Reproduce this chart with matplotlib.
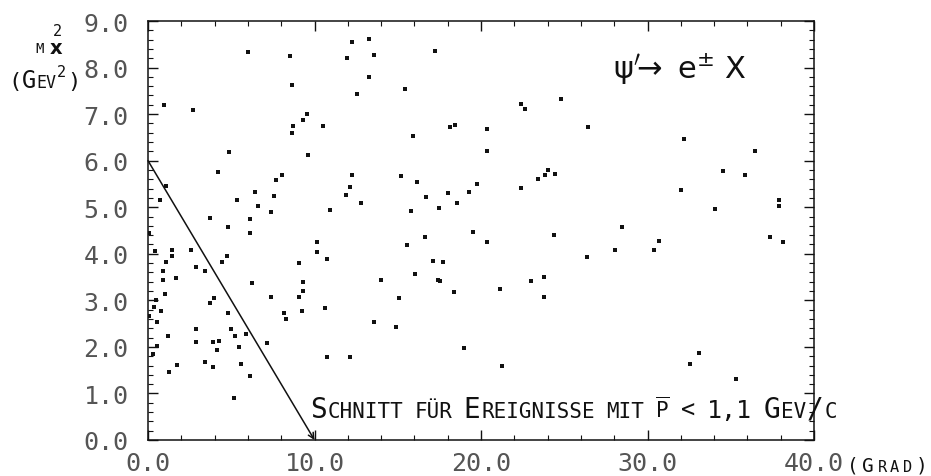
import matplotlib
matplotlib.use("Agg")
import matplotlib.pyplot as plt
from matplotlib.transforms import IdentityTransform
from matplotlib.ticker import MultipleLocator, FormatStrFormatter

# Streuwinkel (Grad) und fehlende Masse M_x^2 (GeV^2)
theta = [
    6.0, 8.53, 8.65, 0.96, 2.7, 8.7, 8.65, 9.3, 9.55, 9.6, 4.86, 4.2, 1.08, 0.72,
    3.72, 5.35, 6.43, 6.6, 7.7, 8.05, 7.57, 7.39, 6.13, 4.8, 6.1, 0.06,
    0.42, 1.08, 1.44, 1.44, 0.9, 1.68, 0.9, 1.02, 2.58, 2.88, 3.42, 4.44, 4.74,
    6.25, 3.96, 3.72, 0.48, 0.36, 0.78, 0.06, 0.54, 4.8, 5.0, 5.2, 5.9, 2.88,
    1.2, 2.88, 3.9, 4.26, 4.14, 5.47, 0.54, 0.3, 1.74, 1.26, 3.42, 3.9, 5.59,
    6.13, 5.16, 7.15, 7.39, 8.17, 8.29, 9.07, 9.25, 9.07, 9.3, 9.3, 10.15, 10.15,
    12.25, 13.27, 11.95, 13.57, 17.24, 13.27, 15.44, 12.55, 10.5, 15.9, 18.14,
    18.44, 20.36, 20.36, 22.4, 22.64, 24.8, 26.43, 12.25, 12.13, 11.9, 10.93,
    12.8, 15.2, 16.16, 15.8, 16.7, 17.48, 18.02, 18.56, 19.28, 19.76, 22.4,
    23.42, 23.84, 24.02, 24.44, 16.64, 19.52, 24.38,
    10.75, 10.63, 15.56, 20.36, 26.37, 28.05, 17.12, 17.72, 13.99, 16.04, 17.42,
    17.54, 18.38, 15.08, 21.14, 23.0, 23.78, 23.78, 13.57, 14.9, 18.98, 10.75,
    12.13, 21.26,
    32.2, 36.46, 34.53, 35.86, 32.0, 37.9, 37.9, 34.05, 28.47, 37.36,
    30.4, 30.7, 38.14, 32.55, 33.1, 35.3,
]
mx2 = [
    8.33, 8.25, 7.62, 7.2, 7.09, 6.75, 6.6, 6.88, 7.0, 6.12, 6.19, 5.75, 5.46, 5.15,
    4.77, 5.15, 5.32, 5.02, 5.58, 5.69, 5.24, 4.9, 4.75, 4.57, 4.44, 4.44,
    4.06, 3.82, 4.08, 3.95, 3.63, 3.48, 3.44, 3.14, 4.08, 3.72, 3.63, 3.82, 3.95,
    3.37, 3.05, 2.94, 3.0, 2.86, 2.77, 2.66, 2.53, 2.73, 2.38, 2.23, 2.28, 2.38,
    2.23, 2.1, 2.1, 2.13, 1.93, 2.0, 2.02, 1.85, 1.61, 1.46, 1.67, 1.57, 1.63,
    1.37, 0.9, 2.08, 3.07, 2.73, 2.6, 3.07, 2.77, 3.8, 3.39, 3.2, 4.25, 4.04,
    8.55, 8.61, 8.2, 8.27, 8.36, 7.8, 7.54, 7.43, 6.75, 6.53, 6.72,
    6.77, 6.68, 6.2, 7.22, 7.11, 7.32, 6.72, 5.69, 5.43, 5.27, 4.94,
    5.09, 5.67, 5.54, 4.92, 5.22, 4.98, 5.3, 5.09, 5.33, 5.5, 5.41,
    5.6, 5.69, 5.8, 5.71, 4.36, 4.47, 4.4,
    3.89, 2.83, 4.19, 4.25, 3.93, 4.08, 3.84, 3.82, 3.44, 3.57, 3.44,
    3.41, 3.18, 3.05, 3.24, 3.41, 3.5, 3.07, 2.53, 2.43, 1.98, 1.78,
    1.78, 1.59,
    6.46, 6.2, 5.77, 5.69, 5.37, 5.15, 5.02, 4.96, 4.57, 4.36,
    4.08, 4.27, 4.25, 1.63, 1.87, 1.31,
]

# Schnittlinie
cut_x = [0.0, 10.0]
cut_y = [6.0, 0.0]

W, H = 931, 477
ink = "#111111"
mono = "DejaVu Sans Mono"

fig = plt.figure(figsize=(W / 100, H / 100), dpi=100)
ax = fig.add_axes([148 / W, (H - 441) / H, (814 - 148) / W, (441 - 22) / H])

ax.scatter(theta, mx2, marker="s", s=6, color=ink, linewidths=0, zorder=3)
ax.annotate("", xy=(cut_x[1], cut_y[1]), xytext=(cut_x[0], cut_y[0]),
            arrowprops=dict(arrowstyle="->", color=ink, lw=1.1,
                            shrinkA=0, shrinkB=0, mutation_scale=10))

ax.set_xlim(0, 40)
ax.set_ylim(0, 9)
ax.xaxis.set_major_locator(MultipleLocator(10))
ax.xaxis.set_minor_locator(MultipleLocator(2))
ax.yaxis.set_major_locator(MultipleLocator(1))
ax.yaxis.set_minor_locator(MultipleLocator(0.2))
ax.xaxis.set_major_formatter(FormatStrFormatter("%.1f"))
ax.yaxis.set_major_formatter(FormatStrFormatter("%.1f"))
ax.tick_params(which="both", direction="in", top=True, right=True, color=ink,
               labelsize=18, labelcolor="#555555", labelfontfamily=mono)
ax.tick_params(which="major", length=7, width=1)
ax.tick_params(which="minor", length=3.5, width=0.8)
ax.tick_params(axis="x", pad=8)
ax.tick_params(axis="y", pad=14)
for sp in ax.spines.values():
    sp.set_linewidth(1.1)
    sp.set_color(ink)


def put(x, y_img, pieces, family=mono, space=12, track=1.5):
    # Kapitaelchen: Textstuecke nacheinander setzen (Pixelkoordinaten)
    r = fig.canvas.get_renderer()
    for s, size, dy in pieces:
        if s == " ":
            x += space
            continue
        t = fig.text(x, H - y_img + dy, s, transform=IdentityTransform(),
                     fontsize=size, family=family, color=ink,
                     ha="left", va="baseline")
        x = t.get_window_extent(renderer=r).x1 + track
    return x


B, S = 20, 15
put(310, 418, [("S", B, 0), ("CHNITT", S, 0), (" ", 0, 0), ("FÜR", S, 0),
               (" ", 0, 0), ("E", B, 0), ("REIGNISSE", S, 0), (" ", 0, 0),
               ("MIT", S, 0), (" ", 0, 0), (r"$\overline{\mathtt{P}}$", S, 0),
               (" ", 0, 0), ("<", 17, 0), (" ", 0, 0), ("1,1", 18, 0),
               (" ", 0, 0), ("G", B, 0), ("EV", S, 0), ("/", B, 0), ("C", S, 0)],
    space=10.5, track=0.8)

# Achsenbeschriftungen
put(847, 472, [("(", 14, 0), ("G", 14, 0), ("R", 11, 0), ("A", 11, 0),
               ("D", 11, 0), (")", 14, 0)], track=3.5)
put(8, 88, [("(", 16, 0), ("G", 17, 0), ("EV", 12, 0), ("2", 11, 11),
            (")", 16, 0)], track=0.5)
fig.text(35, H - 53, "M", transform=IdentityTransform(), fontsize=10,
         family=mono, color=ink, va="baseline")
fig.text(50, H - 54, "x", transform=IdentityTransform(), fontsize=14,
         family="DejaVu Sans", fontweight="bold", color=ink, va="baseline")
fig.text(53, H - 36, "2", transform=IdentityTransform(), fontsize=11,
         family=mono, color=ink, va="baseline")

fig.text(613, H - 79, r"ψ$'\!\!\rightarrow$ e$^{\pm}$ X",
         transform=IdentityTransform(), fontsize=22, color=ink, va="baseline")

fig.savefig("out.png", dpi=100)
